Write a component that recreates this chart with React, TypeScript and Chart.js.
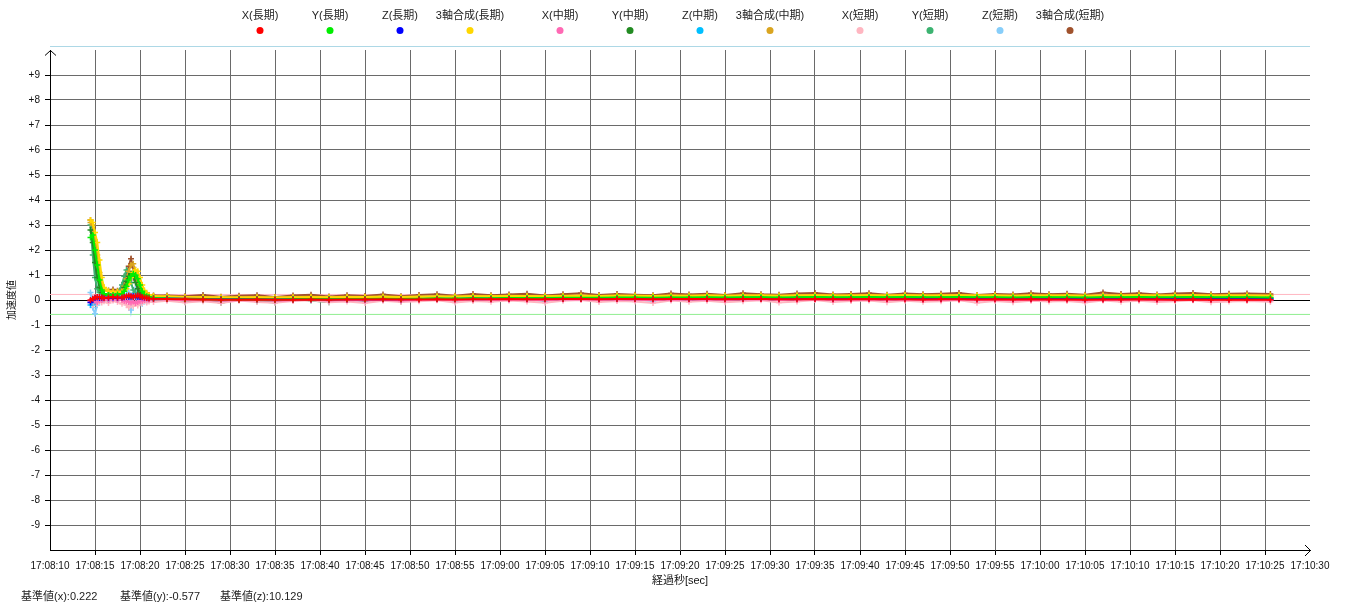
import React, { useEffect, useRef } from 'react';
import { Chart, registerables } from 'chart.js';

Chart.register(...registerables);

const FONT = "'Liberation Sans', 'Noto Sans CJK JP', sans-serif";

// elapsed seconds since 17:08:10
const seconds = [
  4.5, 4.75, 5, 5.25, 5.5, 5.75, 6, 6.5, 7, 7.5, 8, 8.25, 8.5, 8.75, 9, 9.25, 9.5, 9.75, 10, 10.25, 10.5, 10.75, 11, 11.5,
  13, 15, 17, 19, 21, 23, 25, 27, 29, 31,
  33, 35, 37, 39, 41, 43, 45, 47, 49, 51,
  53, 55, 57, 59, 61, 63, 65, 67, 69, 71,
  73, 75, 77, 79, 81, 83, 85, 87, 89, 91,
  93, 95, 97, 99, 101, 103, 105, 107, 109, 111,
  113, 115, 117, 119, 121, 123, 125, 127, 129, 131,
  133, 135.6,
];

const timeTickLabels = [
  '17:08:10', '17:08:15', '17:08:20', '17:08:25', '17:08:30', '17:08:35', '17:08:40', '17:08:45',
  '17:08:50', '17:08:55', '17:09:00', '17:09:05', '17:09:10', '17:09:15', '17:09:20', '17:09:25',
  '17:09:30', '17:09:35', '17:09:40', '17:09:45', '17:09:50', '17:09:55', '17:10:00', '17:10:05',
  '17:10:10', '17:10:15', '17:10:20', '17:10:25', '17:10:30',
];

const xLong = [
  0.00, 0.05, 0.10, 0.12, 0.12, 0.10, 0.08, 0.10, 0.12, 0.10, 0.10, 0.12, 0.15, 0.18, 0.15, 0.12, 0.15, 0.18, 0.15, 0.12, 0.10, 0.08, 0.06, 0.05,
  0.04, 0.03, 0.02, 0.01, 0.01, 0.02, 0.01, 0.01, 0.02, 0.01,
  0.02, 0.02, 0.03, 0.02, 0.02, 0.03, 0.02, 0.03, 0.03, 0.04,
  0.03, 0.03, 0.04, 0.04, 0.03, 0.04, 0.04, 0.03, 0.04, 0.04,
  0.04, 0.03, 0.04, 0.04, 0.03, 0.03, 0.04, 0.03, 0.03, 0.04,
  0.03, 0.03, 0.02, 0.03, 0.03, 0.02, 0.03, 0.02, 0.03, 0.02,
  0.02, 0.01, 0.02, 0.02, 0.03, 0.02, 0.01, 0.02, 0.01, 0.01,
  0.01, 0.01,
];
const yLong = [
  2.50, 2.60, 2.00, 1.40, 0.80, 0.40, 0.25, 0.20, 0.20, 0.22, 0.25, 0.35, 0.55, 0.80, 0.95, 1.05, 1.00, 0.85, 0.60, 0.35, 0.20, 0.15, 0.12, 0.08,
  0.06, 0.04, 0.03, 0.02, 0.02, 0.03, 0.02, 0.03, 0.04, 0.03,
  0.04, 0.04, 0.05, 0.04, 0.05, 0.06, 0.06, 0.07, 0.07, 0.08,
  0.08, 0.08, 0.09, 0.09, 0.09, 0.10, 0.10, 0.09, 0.10, 0.10,
  0.11, 0.10, 0.11, 0.11, 0.10, 0.11, 0.12, 0.11, 0.11, 0.12,
  0.11, 0.12, 0.11, 0.11, 0.12, 0.11, 0.11, 0.10, 0.11, 0.11,
  0.11, 0.10, 0.11, 0.11, 0.12, 0.11, 0.11, 0.12, 0.11, 0.11,
  0.11, 0.10,
];
const zLong = [
  -0.10, 0.05, 0.08, 0.10, 0.08, 0.09, 0.10, 0.09, 0.10, 0.09, 0.10, 0.11, 0.12, 0.13, 0.14, 0.15, 0.14, 0.13, 0.12, 0.11, 0.10, 0.09, 0.08, 0.07,
  0.06, 0.05, 0.04, 0.03, 0.03, 0.03, 0.02, 0.03, 0.03, 0.02,
  0.03, 0.03, 0.04, 0.03, 0.04, 0.04, 0.04, 0.05, 0.05, 0.05,
  0.05, 0.05, 0.06, 0.06, 0.05, 0.06, 0.06, 0.06, 0.06, 0.06,
  0.07, 0.06, 0.07, 0.07, 0.06, 0.07, 0.07, 0.06, 0.07, 0.07,
  0.06, 0.07, 0.06, 0.06, 0.07, 0.06, 0.06, 0.05, 0.06, 0.06,
  0.06, 0.05, 0.06, 0.06, 0.06, 0.05, 0.05, 0.06, 0.05, 0.05,
  0.05, 0.04,
];
const sumLong = [
  3.20, 3.10, 2.70, 2.30, 1.60, 0.90, 0.50, 0.35, 0.33, 0.32, 0.33, 0.36, 0.45, 0.65, 0.90, 1.10, 1.20, 1.15, 0.90, 0.60, 0.38, 0.25, 0.20, 0.16,
  0.14, 0.12, 0.11, 0.11, 0.10, 0.11, 0.10, 0.11, 0.12, 0.11,
  0.12, 0.12, 0.13, 0.12, 0.13, 0.14, 0.14, 0.15, 0.15, 0.16,
  0.16, 0.15, 0.16, 0.17, 0.16, 0.17, 0.17, 0.16, 0.17, 0.17,
  0.18, 0.17, 0.18, 0.18, 0.17, 0.18, 0.19, 0.18, 0.18, 0.19,
  0.18, 0.19, 0.18, 0.18, 0.19, 0.18, 0.18, 0.17, 0.18, 0.18,
  0.18, 0.17, 0.18, 0.18, 0.19, 0.18, 0.18, 0.19, 0.18, 0.18,
  0.18, 0.17,
];
const xMid = [
  -0.05, 0.00, -0.05, -0.08, -0.02, 0.00, 0.02, 0.00, 0.03, 0.01, 0.00, -0.03, -0.05, -0.08, -0.10, -0.06, -0.12, -0.08, -0.05, -0.03, 0.00, 0.02, 0.01, 0.02,
  0.02, -0.01, 0.00, -0.03, -0.01, 0.00, -0.03, -0.01, 0.01, -0.02,
  0.00, -0.02, 0.01, -0.02, 0.00, 0.02, -0.01, 0.02, 0.00, 0.01,
  0.01, -0.01, 0.02, 0.03, 0.00, 0.02, 0.01, -0.01, 0.02, 0.01,
  0.02, 0.00, 0.02, 0.03, 0.00, 0.01, 0.03, 0.00, 0.01, 0.02,
  0.00, 0.02, 0.00, 0.01, 0.02, -0.01, 0.01, -0.01, 0.01, 0.00,
  0.01, -0.02, 0.01, 0.00, 0.02, -0.01, 0.00, 0.01, -0.01, 0.00,
  0.00, -0.01,
];
const yMid = [
  2.80, 2.30, 1.50, 0.90, 0.50, 0.30, 0.22, 0.20, 0.22, 0.20, 0.30, 0.50, 0.75, 0.95, 1.05, 0.95, 0.70, 0.45, 0.28, 0.18, 0.12, 0.10, 0.10, 0.07,
  0.05, 0.02, 0.03, 0.00, 0.02, 0.03, 0.00, 0.02, 0.04, 0.01,
  0.03, 0.02, 0.05, 0.03, 0.04, 0.06, 0.04, 0.07, 0.05, 0.08,
  0.07, 0.06, 0.09, 0.10, 0.07, 0.09, 0.08, 0.07, 0.10, 0.09,
  0.11, 0.08, 0.10, 0.11, 0.08, 0.10, 0.12, 0.09, 0.10, 0.12,
  0.09, 0.11, 0.10, 0.10, 0.12, 0.09, 0.10, 0.08, 0.11, 0.10,
  0.10, 0.08, 0.11, 0.10, 0.12, 0.09, 0.10, 0.12, 0.09, 0.10,
  0.10, 0.09,
];
const zMid = [
  -0.20, 0.00, -0.10, 0.05, 0.08, 0.03, 0.06, 0.04, 0.07, 0.05, 0.08, 0.12, 0.18, 0.10, 0.05, 0.15, 0.12, 0.06, 0.08, 0.04, 0.06, 0.05, 0.06, 0.05,
  0.05, 0.03, 0.02, 0.01, 0.02, 0.02, 0.00, 0.02, 0.03, 0.01,
  0.02, 0.01, 0.03, 0.02, 0.03, 0.04, 0.02, 0.04, 0.03, 0.05,
  0.04, 0.03, 0.05, 0.06, 0.04, 0.05, 0.05, 0.04, 0.06, 0.05,
  0.06, 0.04, 0.06, 0.07, 0.05, 0.06, 0.07, 0.05, 0.06, 0.07,
  0.05, 0.06, 0.05, 0.06, 0.07, 0.05, 0.06, 0.04, 0.06, 0.05,
  0.06, 0.04, 0.06, 0.05, 0.07, 0.05, 0.05, 0.06, 0.04, 0.05,
  0.05, 0.04,
];
const sumMid = [
  3.10, 3.00, 2.40, 1.80, 1.10, 0.60, 0.42, 0.36, 0.36, 0.35, 0.38, 0.55, 0.85, 1.15, 1.40, 1.45, 1.10, 0.75, 0.45, 0.32, 0.26, 0.22, 0.20, 0.16,
  0.15, 0.12, 0.12, 0.10, 0.11, 0.12, 0.10, 0.12, 0.13, 0.11,
  0.13, 0.12, 0.14, 0.12, 0.14, 0.15, 0.13, 0.16, 0.15, 0.17,
  0.16, 0.15, 0.17, 0.18, 0.16, 0.18, 0.17, 0.16, 0.18, 0.17,
  0.19, 0.17, 0.18, 0.19, 0.17, 0.19, 0.20, 0.18, 0.18, 0.20,
  0.18, 0.20, 0.18, 0.19, 0.20, 0.18, 0.19, 0.17, 0.19, 0.18,
  0.19, 0.17, 0.19, 0.18, 0.20, 0.18, 0.19, 0.20, 0.18, 0.19,
  0.19, 0.18,
];
const xShort = [
  -0.10, -0.20, -0.05, -0.15, 0.00, -0.10, -0.05, -0.12, -0.02, -0.08, -0.15, -0.05, -0.20, -0.30, -0.10, -0.25, -0.15, -0.22, -0.08, -0.12, -0.05, -0.10, -0.06, -0.08,
  -0.03, -0.10, -0.05, -0.12, -0.02, -0.08, -0.11, -0.04, -0.01, -0.09,
  -0.06, -0.12, -0.03, -0.08, -0.05, -0.01, -0.10, -0.04, -0.07, -0.02,
  -0.06, -0.11, -0.03, 0.00, -0.08, -0.04, -0.06, -0.12, -0.02, -0.07,
  -0.03, -0.09, -0.05, -0.01, -0.10, -0.06, 0.00, -0.08, -0.04, -0.02,
  -0.09, -0.03, -0.07, -0.05, -0.01, -0.11, -0.04, -0.09, -0.03, -0.06,
  -0.04, -0.10, -0.02, -0.07, -0.03, -0.08, -0.05, -0.01, -0.09, -0.06,
  -0.04, -0.07,
];
const yShort = [
  3.00, 1.80, 0.90, 0.45, 0.30, 0.25, 0.20, 0.25, 0.15, 0.30, 0.60, 0.95, 1.20, 1.00, 0.70, 0.40, 0.30, 0.15, 0.10, 0.05, 0.10, 0.02, 0.08, 0.00,
  0.02, -0.08, 0.05, -0.12, 0.03, -0.05, -0.10, 0.04, -0.02, -0.09,
  0.06, -0.04, 0.08, -0.06, 0.02, 0.10, -0.03, 0.09, 0.00, 0.12,
  0.05, -0.02, 0.13, 0.08, 0.01, 0.12, 0.04, -0.01, 0.14, 0.06,
  0.12, 0.02, 0.09, 0.15, 0.03, 0.11, 0.16, 0.05, 0.08, 0.14,
  0.04, 0.12, 0.07, 0.10, 0.15, 0.03, 0.11, 0.02, 0.13, 0.08,
  0.10, 0.01, 0.14, 0.07, 0.12, 0.04, 0.09, 0.15, 0.05, 0.10,
  0.11, 0.06,
];
const zShort = [
  0.30, -0.30, -0.55, -0.20, 0.10, 0.00, 0.15, -0.05, 0.10, 0.05, 0.20, 0.50, 0.80, 0.30, -0.40, 0.20, 0.45, -0.10, 0.05, -0.15, 0.10, -0.05, 0.05, 0.00,
  0.04, -0.06, 0.02, -0.08, 0.05, -0.03, -0.07, 0.03, 0.06, -0.05,
  0.01, -0.04, 0.07, -0.02, 0.03, 0.08, -0.06, 0.05, 0.00, 0.09,
  0.03, -0.05, 0.08, 0.10, -0.02, 0.06, 0.02, -0.04, 0.09, 0.04,
  0.07, -0.01, 0.05, 0.10, 0.00, 0.06, 0.11, 0.02, 0.04, 0.09,
  0.01, 0.07, 0.03, 0.05, 0.10, -0.02, 0.06, 0.00, 0.08, 0.03,
  0.05, -0.03, 0.09, 0.04, 0.07, 0.01, 0.05, 0.10, 0.02, 0.06,
  0.04, 0.03,
];
const sumShort = [
  3.20, 2.90, 2.20, 1.50, 0.80, 0.45, 0.40, 0.38, 0.42, 0.37, 0.45, 0.70, 1.00, 1.35, 1.65, 1.30, 0.80, 0.50, 0.35, 0.30, 0.25, 0.22, 0.20, 0.18,
  0.18, 0.15, 0.20, 0.13, 0.17, 0.19, 0.12, 0.18, 0.21, 0.14,
  0.19, 0.16, 0.22, 0.15, 0.20, 0.23, 0.17, 0.24, 0.19, 0.22,
  0.25, 0.18, 0.23, 0.27, 0.20, 0.24, 0.21, 0.19, 0.26, 0.22,
  0.25, 0.20, 0.27, 0.23, 0.21, 0.26, 0.28, 0.22, 0.24, 0.27,
  0.21, 0.26, 0.23, 0.25, 0.28, 0.20, 0.24, 0.22, 0.27, 0.23,
  0.25, 0.21, 0.30, 0.24, 0.27, 0.22, 0.26, 0.28, 0.23, 0.25,
  0.26, 0.24,
];

const seriesLabels = [
  'X(長期)', 'Y(長期)', 'Z(長期)', '3軸合成(長期)',
  'X(中期)', 'Y(中期)', 'Z(中期)', '3軸合成(中期)',
  'X(短期)', 'Y(短期)', 'Z(短期)', '3軸合成(短期)',
];
const seriesColors = [
  '#ff0000', '#00ee00', '#0000ff', '#ffd700',
  '#ff69b4', '#228b22', '#00bfff', '#daa520',
  '#ffb6c1', '#3cb371', '#87cefa', '#a0522d',
];
const seriesValues = [
  xLong, yLong, zLong, sumLong,
  xMid, yMid, zMid, sumMid,
  xShort, yShort, zShort, sumShort,
];

// reference values
const baseX = 0.222;
const baseY = -0.577;
const baseZ = 10.129;
const baseTexts = [`基準値(x):${baseX}`, `基準値(y):${baseY}`, `基準値(z):${baseZ}`];

const legendCentersX = [260, 330, 400, 470, 560, 630, 700, 770, 860, 930, 1000, 1070];
const baseTextX = [21, 120, 220];

const decorPlugin = {
  id: 'decor',
  afterDraw(chart: any) {
    const ctx = chart.ctx as CanvasRenderingContext2D;
    const area = chart.chartArea;
    ctx.save();
    // top light-blue rule
    ctx.strokeStyle = '#add8e6';
    ctx.lineWidth = 1;
    ctx.beginPath();
    ctx.moveTo(area.left, area.top - 3.5);
    ctx.lineTo(area.right, area.top - 3.5);
    ctx.stroke();
    // axis arrows
    ctx.strokeStyle = '#000';
    ctx.beginPath();
    ctx.moveTo(area.left - 5, area.top + 5.5);
    ctx.lineTo(area.left + 0.5, area.top + 0.5);
    ctx.lineTo(area.left + 6, area.top + 5.5);
    ctx.stroke();
    ctx.beginPath();
    ctx.moveTo(area.right - 5, area.bottom - 5);
    ctx.lineTo(area.right + 0.5, area.bottom + 0.5);
    ctx.lineTo(area.right - 5, area.bottom + 6);
    ctx.stroke();
    // legend
    ctx.font = `11px ${FONT}`;
    ctx.textAlign = 'center';
    ctx.textBaseline = 'middle';
    seriesLabels.forEach((lab, i) => {
      const cx = legendCentersX[i];
      ctx.fillStyle = '#222';
      ctx.fillText(lab, cx, 16);
      ctx.fillStyle = seriesColors[i];
      ctx.beginPath();
      ctx.arc(cx, 30.5, 3.5, 0, Math.PI * 2);
      ctx.fill();
    });
    // reference value texts
    ctx.textAlign = 'left';
    ctx.fillStyle = '#222';
    baseTexts.forEach((t, i) => ctx.fillText(t, baseTextX[i], 597));
    ctx.restore();
  },
};

export default function App() {
  const ref = useRef<HTMLCanvasElement | null>(null);
  useEffect(() => {
    if (!ref.current) return;
    Chart.defaults.font.family = FONT;
    const dataSets: any[] = seriesValues.map((vals, i) => ({
      label: seriesLabels[i],
      data: seconds.map((s, j) => ({ x: s, y: vals[j] })),
      borderColor: seriesColors[i],
      backgroundColor: seriesColors[i],
      pointBorderColor: seriesColors[i],
      borderWidth: 2,
      pointStyle: 'cross',
      pointRadius: 3,
      pointBorderWidth: 1.5,
      tension: 0,
      order: 1,
    }));
    dataSets.push({
      label: 'base-x',
      data: [{ x: 0, y: baseX }, { x: 140, y: baseX }],
      borderColor: '#ffb6c1',
      borderWidth: 1,
      pointRadius: 0,
      order: 10,
    });
    dataSets.push({
      label: 'base-y',
      data: [{ x: 0, y: baseY }, { x: 140, y: baseY }],
      borderColor: '#90ee90',
      borderWidth: 1,
      pointRadius: 0,
      order: 10,
    });
    const gray = '#6a6a6a';
    const none = 'rgba(0,0,0,0)';
    const chart = new Chart(ref.current, {
      type: 'line',
      data: { datasets: dataSets },
      plugins: [decorPlugin],
      options: {
        animation: false,
        responsive: false,
        events: [],
        layout: { padding: { top: 50, right: 40, left: 0, bottom: 0 } },
        plugins: { legend: { display: false }, tooltip: { enabled: false } },
        scales: {
          x: {
            type: 'linear',
            min: 0,
            max: 140,
            afterFit: (s: any) => { s.height = 60; },
            ticks: {
              stepSize: 5,
              autoSkip: false,
              maxRotation: 0,
              minRotation: 0,
              padding: 5,
              color: '#111',
              font: { size: 10 },
              callback: (v: any) => timeTickLabels[Math.round(Number(v) / 5)] ?? '',
            },
            grid: {
              color: (c: any) => (c.tick && (c.tick.value <= 0 || c.tick.value >= 140) ? none : gray),
              tickColor: (c: any) => (c.tick && (c.tick.value <= 0 || c.tick.value >= 140) ? none : '#000'),
              tickLength: 5,
              lineWidth: 1,
            },
            border: { display: true, color: '#000', width: 1 },
            title: {
              display: true,
              text: '経過秒[sec]',
              color: '#111',
              font: { size: 11 },
              padding: { top: 0, bottom: 22 },
            },
          },
          y: {
            min: -10,
            max: 10,
            afterFit: (s: any) => { s.width = 50; },
            ticks: {
              stepSize: 1,
              padding: 5,
              color: '#111',
              font: { size: 10 },
              callback: (v: any) => {
                const n = Number(v);
                if (Math.abs(n) >= 10) return '';
                return n > 0 ? `+${n}` : `${n}`;
              },
            },
            grid: {
              color: (c: any) => {
                const v = c.tick ? c.tick.value : 1;
                if (v === 0) return '#000';
                if (Math.abs(v) >= 10) return none;
                return gray;
              },
              tickColor: (c: any) => (c.tick && Math.abs(c.tick.value) >= 10 ? none : '#000'),
              tickLength: 5,
              lineWidth: 1,
            },
            border: { display: true, color: '#000', width: 1 },
            title: {
              display: true,
              text: '加速度値',
              color: '#111',
              font: { size: 10 },
              padding: { top: 6, bottom: 0 },
            },
          },
        },
      },
    } as any);
    return () => chart.destroy();
  }, []);
  return (
    <div style={{ position: 'absolute', left: 0, top: 0, width: 1350, height: 610, background: '#fff' }}>
      <canvas ref={ref} width={1350} height={610} style={{ display: 'block', width: 1350, height: 610 }} />
    </div>
  );
}
